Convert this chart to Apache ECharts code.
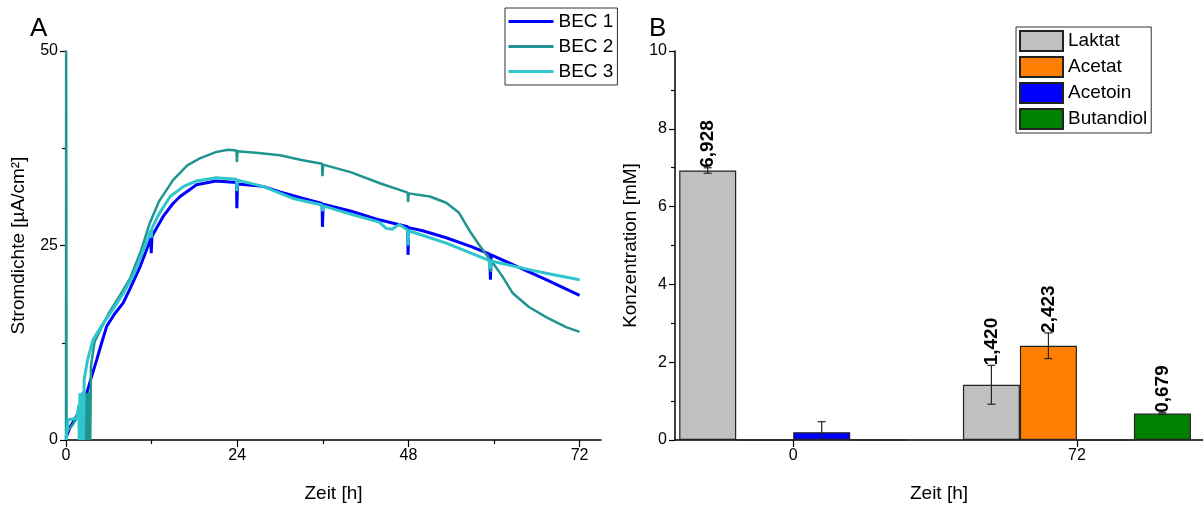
<!DOCTYPE html>
<html>
<head>
<meta charset="utf-8">
<script src="https://cdn.jsdelivr.net/npm/echarts@6/dist/echarts.min.js"></script>
<style>
html, body { margin: 0; padding: 0; background: #fff; }
#chart { width: 1203px; height: 505px; }
</style>
</head>
<body>
<div id="chart"></div>
<script>
// Panel A: current density [h, µA/cm²]
var bec1 = [[0, 0.3], [0.6, 1.7], [1.7, 3.4], [2.3, 4.6], [2.9, 6.0], [3.6, 8.2], [4.3, 10.3], [5, 12.5], [5.7, 14.6],
    [6.8, 16.2], [8, 17.6], [9, 19.5], [10.4, 22.3], [11.9, 25.9], [11.95, 24.0], [12.05, 26.2], [13.6, 28.7],
    [15, 30.4], [16, 31.3], [18.3, 32.8], [21, 33.3], [23.9, 33.1], [23.95, 29.8], [24.05, 32.9], [27.6, 32.6],
    [30, 31.9], [33, 31.1], [35.9, 30.4], [35.95, 27.4], [36.05, 30.3], [40, 29.4], [43.9, 28.3], [47.9, 27.4],
    [47.95, 23.8], [48.05, 27.3], [50, 26.9], [53.3, 26.0], [57, 24.8], [59.4, 23.9], [59.5, 20.6], [59.6, 23.8],
    [63.5, 22.2], [67.3, 20.6], [72, 18.6]];
var bec2 = [[0, 0], [0.02, 50], [0.08, 1.0], [0.8, 1.8], [1.8, 3.2], [2.4, 4.8], [2.5, 0], [2.65, 6.0], [2.8, 0],
    [2.95, 6.0], [3.1, 0], [3.25, 6.2], [3.4, 0], [3.5, 9.5], [4, 12.6], [5, 14.5], [6, 16.3], [7.5, 18.5],
    [9, 20.8], [10.5, 24.3], [11.75, 27.9], [13, 30.6], [15, 33.4], [17, 35.3], [18.75, 36.2], [21, 37.0],
    [22.7, 37.3], [23.9, 37.2], [23.95, 35.7], [24.05, 37.1], [27, 36.9], [30, 36.6], [33, 36.0], [35.9, 35.5],
    [35.95, 33.9], [36.05, 35.4], [40, 34.4], [44, 33.0], [47.9, 31.8], [47.95, 30.6], [48.05, 31.7], [51, 31.3],
    [53.3, 30.5], [55.1, 29.2], [56.5, 27.0], [57.9, 25.1], [59.5, 23.1], [59.55, 21.6], [59.65, 23.0],
    [61.2, 21.0], [62.6, 18.9], [64.9, 17.1], [67.3, 15.8], [70.1, 14.5], [72, 13.9]];
var bec3 = [[0, 0], [0.3, 2.6], [1.5, 2.8], [1.8, 4.5], [1.85, 0], [1.95, 6.0], [2.05, 0], [2.15, 6.0], [2.25, 0],
    [2.35, 6.2], [2.45, 0], [2.55, 7.8], [3, 10.2], [3.8, 12.9], [5, 14.7], [6.5, 16.7], [8, 18.8], [9.5, 21.3],
    [11, 24.8], [11.9, 27.0], [11.95, 26.0], [12.05, 27.2], [13, 29.0], [14.6, 31.3], [16.5, 32.6], [18.3, 33.3],
    [21.1, 33.7], [23.9, 33.5], [23.95, 32.0], [24.05, 33.4], [27.6, 32.6], [32, 31.0], [35.9, 30.2],
    [35.95, 29.4], [36.05, 30.1], [40, 29.0], [43.9, 28.0], [44.9, 27.2], [45.7, 27.1], [46.7, 27.7],
    [47.9, 27.0], [47.95, 25.0], [48.05, 26.9], [53.3, 25.3], [59.3, 23.1], [59.45, 22.0], [59.6, 23.0],
    [64.9, 21.9], [68, 21.3], [72, 20.6]];

// Panel B: concentrations [mM]
var timePoints = [0, 72];
var laktat = [6.928, 1.420];
var laktatErr = [0.07, 0.5];
var acetat = [0, 2.423];
var acetatErr = [0, 0.33];
var acetoin = [0.2, 0];
var acetoinErr = [0.27, 0];
var butandiol = [0, 0.679];
var butandiolErr = [0, 0.02];
var showValue = [true, true, false, true];

var FONT = '"Liberation Sans", Arial, sans-serif';
var BAR_W = 57;

var species = [
    { name: 'Laktat', values: laktat, errs: laktatErr, color: '#c0c0c0' },
    { name: 'Acetat', values: acetat, errs: acetatErr, color: '#ff8000' },
    { name: 'Acetoin', values: acetoin, errs: acetoinErr, color: '#0000ff' },
    { name: 'Butandiol', values: butandiol, errs: butandiolErr, color: '#008000' }
];

var errData = [];
species.forEach(function (s, i) {
    timePoints.forEach(function (t, j) {
        if (s.values[j] > 0) {
            errData.push({ x: t, v: s.values[j], e: s.errs[j], slot: i,
                label: showValue[i] ? s.values[j].toFixed(3).replace('.', ',') : '' });
        }
    });
});

function axisText() {
    return { color: '#000', fontSize: 16, fontFamily: FONT };
}

var barSeries = species.map(function (s) {
    return {
        name: s.name,
        type: 'bar',
        xAxisIndex: 2,
        yAxisIndex: 1,
        barWidth: BAR_W,
        barGap: '0%',
        itemStyle: { color: s.color, borderColor: '#222', borderWidth: 1.2 },
        data: timePoints.map(function (t, j) { return [t, s.values[j]]; })
    };
});

var lineSeries = [
    { name: 'BEC 1', data: bec1, color: '#0000ff', width: 3 },
    { name: 'BEC 2', data: bec2, color: '#209490', width: 2.5 },
    { name: 'BEC 3', data: bec3, color: '#2ec6cc', width: 3 }
].map(function (s) {
    return {
        name: s.name,
        type: 'line',
        xAxisIndex: 0,
        yAxisIndex: 0,
        symbol: 'none',
        showSymbol: false,
        color: s.color,
        lineStyle: { color: s.color, width: s.width },
        data: s.data
    };
});

var errSeries = {
    type: 'custom',
    xAxisIndex: 2,
    yAxisIndex: 1,
    z: 5,
    data: errData.map(function (d) { return [d.x, d.v + d.e]; }),
    renderItem: function (params, api) {
        var d = errData[params.dataIndex];
        var c = api.coord([d.x, d.v]);
        var cx = c[0] + (d.slot - 1.5) * BAR_W;
        var top = api.coord([d.x, d.v + d.e])[1];
        var bot = api.coord([d.x, Math.max(d.v - d.e, 0)])[1];
        var st = { stroke: '#222', lineWidth: 1.2 };
        var children = [
            { type: 'line', shape: { x1: cx, y1: top, x2: cx, y2: bot }, style: st },
            { type: 'line', shape: { x1: cx - 4, y1: top, x2: cx + 4, y2: top }, style: st }
        ];
        if (d.v - d.e > 0) {
            children.push({ type: 'line', shape: { x1: cx - 4, y1: bot, x2: cx + 4, y2: bot }, style: st });
        }
        if (d.label) {
            children.push({
                type: 'text', x: cx, y: top, rotation: Math.PI / 2,
                style: { text: d.label, fill: '#000', font: 'bold 19px ' + FONT, align: 'left', verticalAlign: 'middle' }
            });
        }
        return { type: 'group', children: children };
    }
};

var chart = echarts.init(document.getElementById('chart'));
chart.setOption({
    animation: false,
    textStyle: { fontFamily: FONT },
    title: [
        { text: 'A', left: 25, top: 11, textStyle: { fontSize: 26, fontWeight: 'normal', color: '#000', fontFamily: FONT } },
        { text: 'B', left: 644, top: 11, textStyle: { fontSize: 26, fontWeight: 'normal', color: '#000', fontFamily: FONT } }
    ],
    legend: [
        {
            data: ['BEC 1', 'BEC 2', 'BEC 3'],
            orient: 'vertical', left: 505, top: 8,
            itemWidth: 45, itemHeight: 18, itemGap: 6,
            padding: [4, 4, 4, 2],
            borderColor: '#333', borderWidth: 1,
            itemStyle: { opacity: 0 },
            lineStyle: { width: 3 },
            textStyle: { fontSize: 19, color: '#000', fontFamily: FONT }
        },
        {
            data: ['Laktat', 'Acetat', 'Acetoin', 'Butandiol'],
            icon: 'rect',
            orient: 'vertical', left: 1016, top: 27,
            itemWidth: 43, itemHeight: 20, itemGap: 4,
            padding: [3, 4, 3, 3],
            borderColor: '#333', borderWidth: 1,
            textStyle: { fontSize: 19, color: '#000', fontFamily: FONT }
        }
    ],
    grid: [
        { left: 66, top: 51, width: 535, height: 389, outerBoundsMode: 'none', containLabel: false },
        { left: 675, top: 51, width: 528, height: 389, outerBoundsMode: 'none', containLabel: false }
    ],
    xAxis: [
        {
            gridIndex: 0, type: 'value', min: 0, max: 75,
            name: 'Zeit [h]', nameLocation: 'middle', nameGap: 44,
            nameTextStyle: { fontSize: 19, color: '#000', fontFamily: FONT },
            axisLine: { lineStyle: { color: '#000', width: 1.5 } },
            axisTick: { customValues: [0, 24, 48, 72], length: 7, lineStyle: { color: '#000', width: 1.2 } },
            axisLabel: Object.assign({ customValues: [0, 24, 48, 72] }, axisText()),
            splitLine: { show: false }
        },
        {
            gridIndex: 0, type: 'value', min: 0, max: 75, position: 'bottom',
            axisLine: { show: false },
            axisTick: { customValues: [12, 36, 60], length: 4, lineStyle: { color: '#000', width: 1.2 } },
            axisLabel: { show: false },
            splitLine: { show: false }
        },
        {
            gridIndex: 1, type: 'value', min: -30, max: 104,
            name: 'Zeit [h]', nameLocation: 'middle', nameGap: 44,
            nameTextStyle: { fontSize: 19, color: '#000', fontFamily: FONT },
            axisLine: { onZero: false, lineStyle: { color: '#000', width: 1.5 } },
            axisTick: { customValues: timePoints, length: 7, lineStyle: { color: '#000', width: 1.2 } },
            axisLabel: Object.assign({ customValues: timePoints }, axisText()),
            splitLine: { show: false }
        }
    ],
    yAxis: [
        {
            gridIndex: 0, type: 'value', min: 0, max: 50, interval: 25,
            name: 'Stromdichte [µA/cm²]', nameLocation: 'middle', nameGap: 38,
            nameTextStyle: { fontSize: 19, color: '#000', fontFamily: FONT },
            axisLine: { show: true, onZero: false, lineStyle: { color: '#000', width: 1.5 } },
            axisTick: { show: true, length: 6, lineStyle: { color: '#000', width: 1.2 } },
            minorTick: { show: true, splitNumber: 2, length: 4, lineStyle: { color: '#000', width: 1.2 } },
            axisLabel: axisText(),
            splitLine: { show: false }
        },
        {
            gridIndex: 1, type: 'value', min: 0, max: 10, interval: 2,
            name: 'Konzentration [mM]', nameLocation: 'middle', nameGap: 35,
            nameTextStyle: { fontSize: 19, color: '#000', fontFamily: FONT },
            axisLine: { show: true, onZero: false, lineStyle: { color: '#000', width: 1.5 } },
            axisTick: { show: true, length: 6, lineStyle: { color: '#000', width: 1.2 } },
            minorTick: { show: true, splitNumber: 2, length: 4, lineStyle: { color: '#000', width: 1.2 } },
            axisLabel: axisText(),
            splitLine: { show: false }
        }
    ],
    series: lineSeries.concat(barSeries, [errSeries])
});
</script>
</body>
</html>
